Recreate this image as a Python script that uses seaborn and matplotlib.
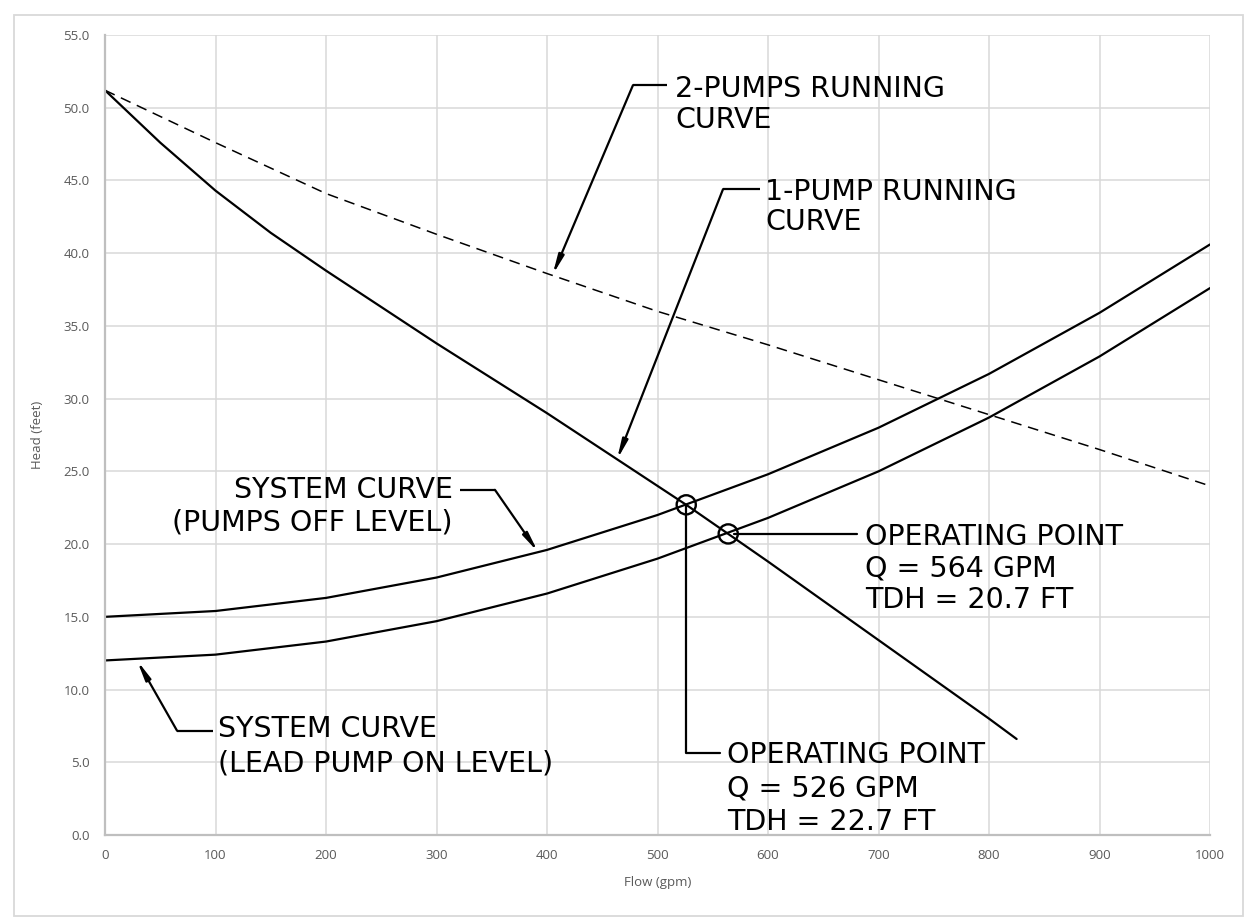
import numpy as np
import pandas as pd
import matplotlib
matplotlib.use("Agg")
import matplotlib.pyplot as plt
import seaborn as sns
from matplotlib.patches import Rectangle

# ---------------- data ----------------
flow_1pump = [0, 50, 100, 150, 200, 250, 300, 350, 400, 450, 500, 526, 564, 600, 700, 800, 825]
head_1pump = [51.2, 47.6, 44.3, 41.4, 38.8, 36.3, 33.8, 31.4, 29.0, 26.5, 24.0, 22.7, 20.7, 18.8, 13.4, 8.0, 6.6]

flow_grid = [0, 100, 200, 300, 400, 500, 600, 700, 800, 900, 1000]
head_2pump = [51.2, 47.6, 44.1, 41.3, 38.6, 36.0, 33.7, 31.3, 28.9, 26.5, 24.0]
head_sys_off = [15.0, 15.4, 16.3, 17.7, 19.6, 22.0, 24.8, 28.0, 31.7, 35.9, 40.6]
head_sys_lead = [12.0, 12.4, 13.3, 14.7, 16.6, 19.0, 21.8, 25.0, 28.7, 32.9, 37.6]

op_flow = [526, 564]
op_head = [22.7, 20.7]

x_ticks = [0, 100, 200, 300, 400, 500, 600, 700, 800, 900, 1000]
y_ticks = [0.0, 5.0, 10.0, 15.0, 20.0, 25.0, 30.0, 35.0, 40.0, 45.0, 50.0, 55.0]

# ---------------- style ----------------
sns.set_theme(style="whitegrid")
plt.rcParams["font.family"] = ["Open Sans", "DejaVu Sans"]

fig = plt.figure(figsize=(12.44, 9.23), dpi=100)
fig.patch.set_facecolor("white")
ax = fig.add_axes([105 / 1244, 1 - 835 / 923, 1105 / 1244, 800 / 923])
ax.set_facecolor("white")

# outer frame
fig.patches.append(Rectangle((14 / 1244, 1 - 916 / 923), 1229 / 1244, 901 / 923,
                             transform=fig.transFigure, fill=False,
                             edgecolor="#d9d9d9", lw=1.3))

# ---------------- curves ----------------
df1 = pd.DataFrame({"flow": flow_1pump, "head": head_1pump})
df2 = pd.DataFrame({"flow": flow_grid, "pumps2": head_2pump,
                    "off": head_sys_off, "lead": head_sys_lead})

sns.lineplot(data=df2, x="flow", y="pumps2", ax=ax, color="black", lw=1.1)
ax.lines[-1].set_linestyle((0, (7, 4.5)))
sns.lineplot(data=df1, x="flow", y="head", ax=ax, color="black", lw=1.6)
sns.lineplot(data=df2, x="flow", y="off", ax=ax, color="black", lw=1.6)
sns.lineplot(data=df2, x="flow", y="lead", ax=ax, color="black", lw=1.6)

sns.scatterplot(x=op_flow, y=op_head, ax=ax, marker="o", s=190,
                edgecolor="black", linewidth=1.7, zorder=5)
ax.collections[-1].set_facecolor("none")

# ---------------- axes ----------------
ax.set_xlim(0, 1000)
ax.set_ylim(0, 55)
ax.set_xticks(x_ticks)
ax.set_yticks(y_ticks)
ax.set_xticklabels([str(v) for v in x_ticks])
ax.set_yticklabels([f"{v:.1f}" for v in y_ticks])
ax.tick_params(axis="both", length=0, labelsize=9.5, labelcolor="#595959")
ax.tick_params(axis="y", pad=11)
ax.tick_params(axis="x", pad=10)
ax.grid(True, color="#d9d9d9", lw=1.1)
for side in ["top", "right"]:
    ax.spines[side].set_visible(False)
for side in ["left", "bottom"]:
    ax.spines[side].set_color("#bfbfbf")
    ax.spines[side].set_linewidth(1.6)
ax.set_xlabel("Flow (gpm)", fontsize=9.5, color="#595959", labelpad=10)
ax.set_ylabel("Head (feet)", fontsize=9.5, color="#595959", labelpad=14)

# ---------------- annotations ----------------
TXT = dict(fontsize=20.5, family="DejaVu Sans", color="black", va="baseline")
LW = 1.6
ARROW = dict(arrowstyle="-|>,head_length=0.8,head_width=0.12", color="black",
             lw=LW, shrinkA=0, shrinkB=0, mutation_scale=14)


def leader(tip, corner, end):
    ax.plot([end[0], corner[0]], [end[1], corner[1]], color="black", lw=LW,
            solid_capstyle="butt")
    ax.annotate("", xy=tip, xytext=corner, arrowprops=ARROW)


# 2-pumps running curve
leader((405, 38.5), (477.8, 51.55), (508.6, 51.55))
ax.text(515.8, 50.74, "2-PUMPS RUNNING", ha="left", **TXT)
ax.text(515.8, 48.6, "CURVE", ha="left", **TXT)

# 1-pump running curve
leader((463.3, 25.8), (559.3, 44.4), (592.8, 44.4))
ax.text(597.3, 43.66, "1-PUMP RUNNING", ha="left", **TXT)
ax.text(597.3, 41.6, "CURVE", ha="left", **TXT)

# system curve (pumps off level)
leader((391.9, 19.45), (352.9, 23.73), (321.3, 23.73))
ax.text(314.9, 23.18, "SYSTEM CURVE", ha="right", **TXT)
ax.text(314.9, 20.95, "(PUMPS OFF LEVEL)", ha="right", **TXT)

# system curve (lead pump on level)
leader((29.0, 12.0), (65.2, 7.17), (97.7, 7.17))
ax.text(102.3, 6.75, "SYSTEM CURVE", ha="left", **TXT)
ax.text(102.3, 4.35, "(LEAD PUMP ON LEVEL)", ha="left", **TXT)

# operating point 564 gpm
ax.plot([569, 680.5], [20.7, 20.7], color="black", lw=LW)
ax.text(687.8, 19.95, "OPERATING POINT", ha="left", **TXT)
ax.text(687.8, 17.75, "Q = 564 GPM", ha="left", **TXT)
ax.text(687.8, 15.62, "TDH = 20.7 FT", ha="left", **TXT)

# operating point 526 gpm
ax.plot([526, 526, 556.6], [22.7, 5.65, 5.65], color="black", lw=LW)
ax.text(562.9, 4.97, "OPERATING POINT", ha="left", **TXT)
ax.text(562.9, 2.63, "Q = 526 GPM", ha="left", **TXT)
ax.text(562.9, 0.36, "TDH = 22.7 FT", ha="left", **TXT)

fig.savefig("out.png", dpi=100, facecolor="white")
